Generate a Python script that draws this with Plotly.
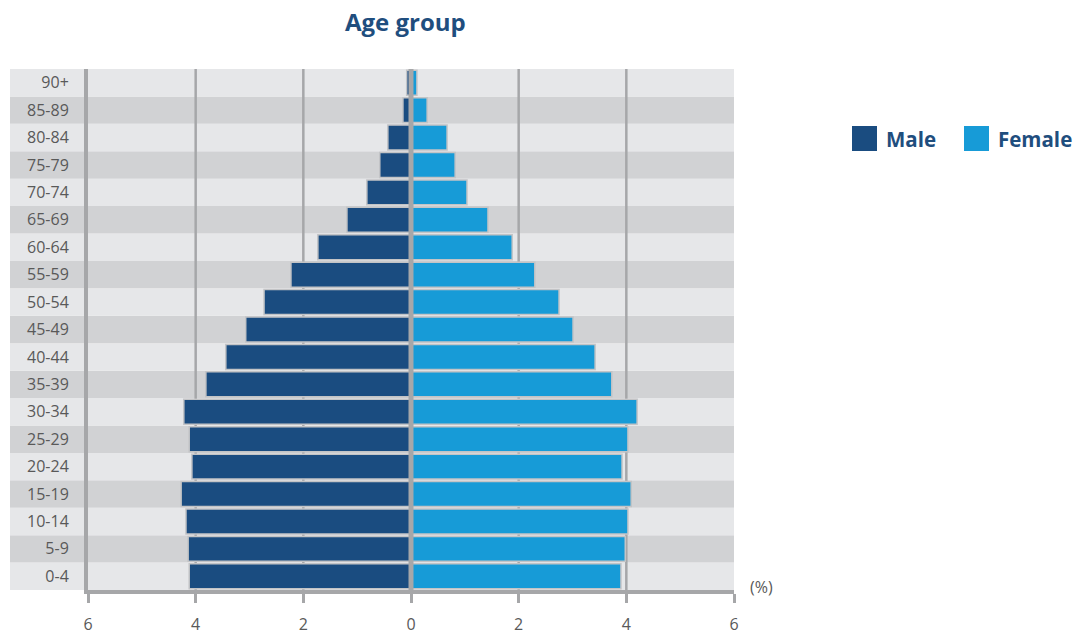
import plotly.graph_objects as go

age_groups = ["0-4", "5-9", "10-14", "15-19", "20-24", "25-29", "30-34", "35-39",
              "40-44", "45-49", "50-54", "55-59", "60-64", "65-69", "70-74",
              "75-79", "80-84", "85-89", "90+"]
male = [4.12, 4.14, 4.18, 4.27, 4.07, 4.12, 4.22, 3.81, 3.44, 3.07, 2.73, 2.23,
        1.73, 1.19, 0.82, 0.58, 0.43, 0.15, 0.08]
female = [3.90, 3.98, 4.03, 4.09, 3.92, 4.03, 4.20, 3.73, 3.42, 3.01, 2.75, 2.30,
          1.88, 1.43, 1.04, 0.82, 0.67, 0.30, 0.11]
x_ticks = [-6, -4, -2, 0, 2, 4, 6]
x_ticktext = ["6", "4", "2", "0", "2", "4", "6"]
grid_vals = [-4, -2, 2, 4]

MALE_C = "#1a4c80"
FEMALE_C = "#179bd7"
TITLE_C = "#1f4e7e"
GRAY = "#a6a7a9"
TXT = "#595959"
FONT = "Open Sans"

W, H = 1074, 634
L, R, T, B = 88, 340, 69, 44
PW, PH = W - L - R, H - T - B

def px_x(p):
    return (p - L) / PW

def px_y(p):
    return (H - B - p) / PH

fig = go.Figure()
fig.add_trace(go.Bar(y=age_groups, x=[-v for v in male], orientation="h", name="Male",
                     marker=dict(color=MALE_C, line=dict(color="#c3c4c6", width=1.5)),
                     showlegend=False))
fig.add_trace(go.Bar(y=age_groups, x=female, orientation="h", name="Female",
                     marker=dict(color=FEMALE_C, line=dict(color="#c3c4c6", width=1.5)),
                     showlegend=False))

shapes = []
n = len(age_groups)
for i, g in enumerate(age_groups):
    idx_from_top = n - 1 - i
    col = "#e6e7e9" if idx_from_top % 2 == 0 else "#d1d2d4"
    shapes.append(dict(type="rect", xref="paper", yref="y", x0=px_x(10), x1=1,
                       y0=i - 0.5, y1=i + 0.5, fillcolor=col, line=dict(width=0),
                       layer="below"))
for gv in grid_vals:
    shapes.append(dict(type="line", xref="x", yref="paper", x0=gv, x1=gv, y0=0, y1=1,
                       line=dict(color=GRAY, width=2.5), layer="below"))
shapes.append(dict(type="line", xref="x", yref="paper", x0=0, x1=0, y0=0, y1=1,
                   line=dict(color=GRAY, width=5), layer="above"))

annotations = []
for x0, label, col in [(852, "Male", MALE_C), (964, "Female", FEMALE_C)]:
    shapes.append(dict(type="rect", xref="paper", yref="paper",
                       x0=px_x(x0), x1=px_x(x0 + 25), y0=px_y(151), y1=px_y(126),
                       fillcolor=col, line=dict(width=0)))
    annotations.append(dict(xref="paper", yref="paper", x=px_x(x0 + 32), y=px_y(139),
                            xanchor="left", yanchor="middle", showarrow=False,
                            text="<b>%s</b>" % label,
                            font=dict(family=FONT, size=20.5, color=TITLE_C)))

annotations.append(dict(xref="paper", yref="paper", x=px_x(761), y=px_y(587),
                        xanchor="center", yanchor="middle", showarrow=False,
                        text="(%)", font=dict(family=FONT, size=16, color=TXT)))
annotations.append(dict(xref="paper", yref="paper", x=px_x(405), y=px_y(22),
                        xanchor="center", yanchor="middle", showarrow=False,
                        text="<b>Age group</b>",
                        font=dict(family=FONT, size=24, color=TITLE_C)))

fig.update_layout(
    width=W, height=H,
    margin=dict(l=L, r=R, t=T, b=B, pad=0, autoexpand=False),
    paper_bgcolor="white", plot_bgcolor="white",
    barmode="relative", bargap=0.09,
    shapes=shapes, annotations=annotations,
    font=dict(family=FONT, color=TXT),
    xaxis=dict(range=[-6, 6], tickvals=x_ticks, ticktext=x_ticktext,
               showgrid=False, zeroline=False, showline=True, linecolor=GRAY,
               linewidth=4, ticks="outside", ticklen=9, tickwidth=2.5, tickcolor=GRAY,
               tickfont=dict(family=FONT, size=16, color=TXT), ticklabelstandoff=8,
               automargin=False, fixedrange=True),
    yaxis=dict(type="category", categoryorder="array", categoryarray=age_groups,
               range=[-0.5, n - 0.5], showgrid=False, zeroline=False, showline=True,
               linecolor=GRAY, linewidth=4, ticks="",
               tickfont=dict(family=FONT, size=16, color=TXT), ticklabelstandoff=12,
               automargin=False, fixedrange=True),
)

fig.write_html("out.html")
